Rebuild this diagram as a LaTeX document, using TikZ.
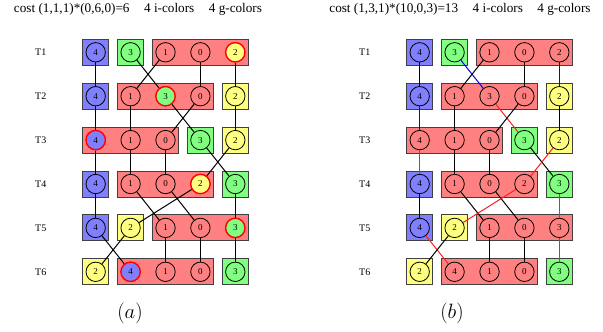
\documentclass[tikz,border=0pt]{standalone}
\usepackage{xcolor}
\usepackage{amsmath,amssymb}
\usepackage{fontspec}
\setmainfont{Liberation Serif}
\usepackage{tikz}

\definecolor{redfill}{RGB}{255,128,128}
\definecolor{blufill}{RGB}{128,128,255}
\definecolor{grnfill}{RGB}{128,255,128}
\definecolor{yelfill}{RGB}{255,255,128}
\definecolor{redline}{RGB}{255,30,30}

\begin{document}
\begin{tikzpicture}[
    x=1pt, y=-1pt,
    every node/.style={inner sep=0pt},
    cell/.style={rectangle, draw=black!75, line width=0.9pt, minimum height=26pt},
    num/.style={circle, draw, line width=0.8pt, minimum size=19.4pt, font=\fontsize{9}{10}\selectfont},
    hot/.style={draw=red, line width=1.4pt},
    cold/.style={},
    tlabel/.style={font=\fontsize{10}{12}\selectfont},
    title/.style={font=\fontsize{13.2}{15}\selectfont},
    link/.style={line width=1pt}
]
\useasboundingbox (0,0) rectangle (603,332);

% boxes, same in both schedules
\foreach \p/\dx in {a/0, b/324}{
    \foreach \r/\c/\w/\f in {1/1/1/blufill, 1/2/1/grnfill, 1/3/3/redfill,
                             2/1/1/blufill, 2/2/3/redfill, 2/5/1/yelfill,
                             3/1/3/redfill, 3/4/1/grnfill, 3/5/1/yelfill,
                             4/1/1/blufill, 4/2/3/redfill, 4/5/1/grnfill,
                             5/1/1/blufill, 5/2/1/yelfill, 5/3/3/redfill,
                             6/1/1/yelfill, 6/2/3/redfill, 6/5/1/grnfill}
        \node[cell, fill=\f, minimum width={(\w-1)*34.9pt+26pt}] (box\p\r\c)
            at ({\dx+95.7+(\c-1+(\w-1)/2)*34.9}, {52.3+(\r-1)*43.9}) {};
    \foreach \r in {1,...,6}
        \node[tlabel] (lab\p\r) at ({\dx+40.7}, {52.3+(\r-1)*43.9}) {T\r};
}

% (a)
\foreach \r/\c/\n/\f/\s in {1/1/4/blufill/cold, 1/2/3/grnfill/cold, 1/3/1/redfill/cold, 1/4/0/redfill/cold, 1/5/2/yelfill/hot,
                            2/1/4/blufill/cold, 2/2/1/redfill/cold, 2/3/3/grnfill/hot, 2/4/0/redfill/cold, 2/5/2/yelfill/cold,
                            3/1/4/blufill/hot, 3/2/1/redfill/cold, 3/3/0/redfill/cold, 3/4/3/grnfill/cold, 3/5/2/yelfill/cold,
                            4/1/4/blufill/cold, 4/2/1/redfill/cold, 4/3/0/redfill/cold, 4/4/2/yelfill/hot, 4/5/3/grnfill/cold,
                            5/1/4/blufill/cold, 5/2/2/yelfill/cold, 5/3/1/redfill/cold, 5/4/0/redfill/cold, 5/5/3/grnfill/hot,
                            6/1/2/yelfill/cold, 6/2/4/blufill/hot, 6/3/1/redfill/cold, 6/4/0/redfill/cold, 6/5/3/grnfill/cold}
    \node[num, fill=\f, \s] (a\r\c) at ({95.7+(\c-1)*34.9}, {52.3+(\r-1)*43.9}) {\n};

% (b)
\foreach \r/\c/\n/\f in {1/1/4/blufill, 1/2/3/grnfill, 1/3/1/redfill, 1/4/0/redfill, 1/5/2/redfill,
                         2/1/4/blufill, 2/2/1/redfill, 2/3/3/redfill, 2/4/0/redfill, 2/5/2/yelfill,
                         3/1/4/redfill, 3/2/1/redfill, 3/3/0/redfill, 3/4/3/grnfill, 3/5/2/yelfill,
                         4/1/4/blufill, 4/2/1/redfill, 4/3/0/redfill, 4/4/2/redfill, 4/5/3/grnfill,
                         5/1/4/blufill, 5/2/2/yelfill, 5/3/1/redfill, 5/4/0/redfill, 5/5/3/redfill,
                         6/1/2/yelfill, 6/2/4/redfill, 6/3/1/redfill, 6/4/0/redfill, 6/5/3/grnfill}
    \node[num, fill=\f] (b\r\c) at ({324+95.7+(\c-1)*34.9}, {52.3+(\r-1)*43.9}) {\n};

% transfers
\foreach \u/\v in {11/21, 12/23, 13/22, 14/24, 15/25,
                   21/31, 22/32, 23/34, 24/33, 25/35,
                   31/41, 32/42, 33/43, 34/45, 35/44,
                   41/51, 42/53, 43/54, 44/52, 45/55,
                   51/62, 52/61, 53/63, 54/64, 55/65}
    \draw[link] (a\u) -- (a\v);

\foreach \u/\v/\k in {11/21/black, 12/23/blue, 13/22/black, 14/24/black, 15/25/blue,
                      21/31/blue, 22/32/black, 23/34/redline, 24/33/black, 25/35/black,
                      31/41/redline, 32/42/black, 33/43/black, 34/45/black, 35/44/redline,
                      41/51/black, 42/53/black, 43/54/black, 44/52/redline, 45/55/redline,
                      51/62/redline, 52/61/black, 53/63/black, 54/64/black, 55/65/redline}
    \draw[link, \k] (b\u) -- (b\v);

\node[title] (costa) at (138,9) {cost (1,1,1)*(0,6,0)=6\hspace{1.1em}4 i-colors\hspace{1.1em}4 g-colors};
\node[title] (costb) at (460,9) {cost (1,3,1)*(10,0,3)=13\hspace{1.1em}4 i-colors\hspace{1.1em}4 g-colors};
\node[font=\fontsize{21}{25}\selectfont] (capa) at (130,313) {$(a)$};
\node[font=\fontsize{21}{25}\selectfont] (capb) at (452,313) {$(b)$};

\end{tikzpicture}
\end{document}
